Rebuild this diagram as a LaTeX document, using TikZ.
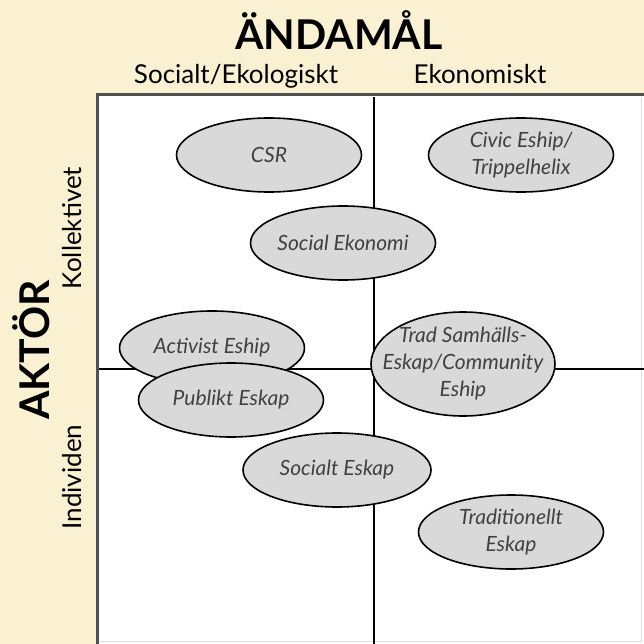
\documentclass[tikz,border=0pt]{standalone}
\usepackage{fontspec}
\setmainfont{Lato}
\definecolor{Cream}{RGB}{250, 240, 210}
\definecolor{BubbleGray}{RGB}{217, 217, 217}
\definecolor{LabelGray}{RGB}{65, 65, 65}
\definecolor{FrameGray}{RGB}{80, 80, 80}
\usetikzlibrary{shapes.geometric}

\begin{document}
\begin{tikzpicture}[
        x=1pt, y=-1pt,
        bubble/.style={ellipse, draw=black, line width=1.6pt, fill=BubbleGray, minimum width=185pt, minimum height=74pt, inner xsep=-12pt, inner ysep=0pt, align=center, text=LabelGray, font=\itshape\fontsize{21}{27}\selectfont},
        heading/.style={font=\bfseries\fontsize{41}{43}\selectfont},
        axislabel/.style={font=\fontsize{26}{28}\selectfont},
        divider/.style={line width=1.8pt}
    ]
        % Background
        \useasboundingbox[fill=Cream] (0,0) rectangle (644,644);
        \fill[white] (97,95) rectangle (644,644);
        \draw[gray!25, line width=1pt] (100,641) -- (641,641) -- (641,97);
        \draw[FrameGray, line width=3pt] (97,644) -- (97,95) -- (644,95);

        % Headings
        \node[heading, anchor=base] (purpose) at (339,50) {ÄNDAMÅL};
        \node[axislabel, anchor=base] (social) at (236,84) {Socialt/Ekologiskt};
        \node[axislabel, anchor=base] (economic) at (480,84) {Ekonomiskt};
        \node[heading, rotate=90] (actor) at (31,350) {AKTÖR};
        \node[axislabel, rotate=90] (collective) at (72,228) {Kollektivet};
        \node[axislabel, rotate=90] (individual) at (72,477) {Individen};

        % Dividers
        \coordinate (vtop) at (374,97);
        \coordinate (vbot) at (374,644);
        \coordinate (hleft) at (99,369);
        \coordinate (hright) at (644,369);
        \draw[divider] (vtop) -- (vbot);
        \draw[divider] (hleft) -- (hright);

        % Bubbles
        \node[bubble] (csr) at (269,155) {CSR};
        \node[bubble] (civic) at (521,155) {Civic Eship/\\Trippelhelix};
        \node[bubble] (socek) at (343,243) {Social Ekonomi};
        \node[bubble] (activist) at (212,348) {Activist Eship};
        \node[bubble] (public) at (231,400) {Publikt Eskap};
        \node[bubble, minimum width=184pt, minimum height=104pt, inner xsep=-30pt, inner ysep=-10pt] (trad) at (463,364) {Trad Samhälls-\\Eskap/Community\\Eship};
        \node[bubble, minimum width=188pt] (socialt) at (337,470) {Socialt Eskap};
        \node[bubble] (traditional) at (511,532) {Traditionellt\\Eskap};
    \end{tikzpicture}
\end{document}
